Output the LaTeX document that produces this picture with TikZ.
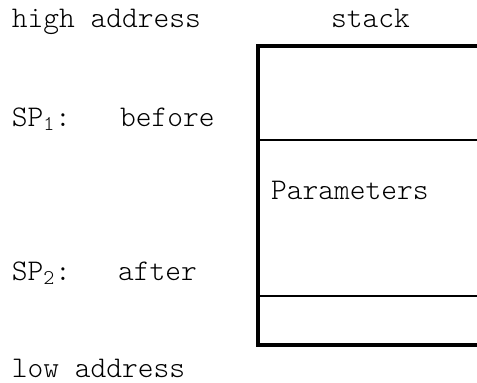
\documentclass[tikz,border=0pt]{standalone}
\usepackage{fontspec}
\newfontfamily\stackfont{Latin Modern Mono Light}
\begin{document}
\begin{tikzpicture}[x=1pt,y=-1pt,
  lbl/.style={anchor=base west,inner sep=0pt,outer sep=0pt,font=\stackfont\fontsize{30}{34}\selectfont},
  thickline/.style={line width=4pt,line cap=rect},
  thinline/.style={line width=2pt}]
\useasboundingbox (0,0) rectangle (477,383);
% labels
\node[lbl] (high) at (12,27) {high address};
\node[lbl] (stack) at (331,27) {stack};
\node[lbl] (sp1) at (12,126) {SP\textsubscript{1}:};
\node[lbl] (before) at (120,126) {before};
\node[lbl] (sp2) at (12,280) {SP\textsubscript{2}:};
\node[lbl] (after) at (118,280) {after};
\node[lbl] (low) at (12,377) {low address};
\node[lbl] (params) at (271,199) {Parameters};
% stack box
\coordinate (tl) at (258,46);
\coordinate (tr) at (477,46);
\coordinate (bl) at (258,344.5);
\coordinate (br) at (477,344.5);
\coordinate (m1l) at (258,140);
\coordinate (m1r) at (477,140);
\coordinate (m2l) at (258,296);
\coordinate (m2r) at (477,296);
\draw[thinline] (m1l) -- (m1r);
\draw[thinline] (m2l) -- (m2r);
\draw[thickline] (tr) -- (tl) -- (bl) -- (br);
\end{tikzpicture}
\end{document}
